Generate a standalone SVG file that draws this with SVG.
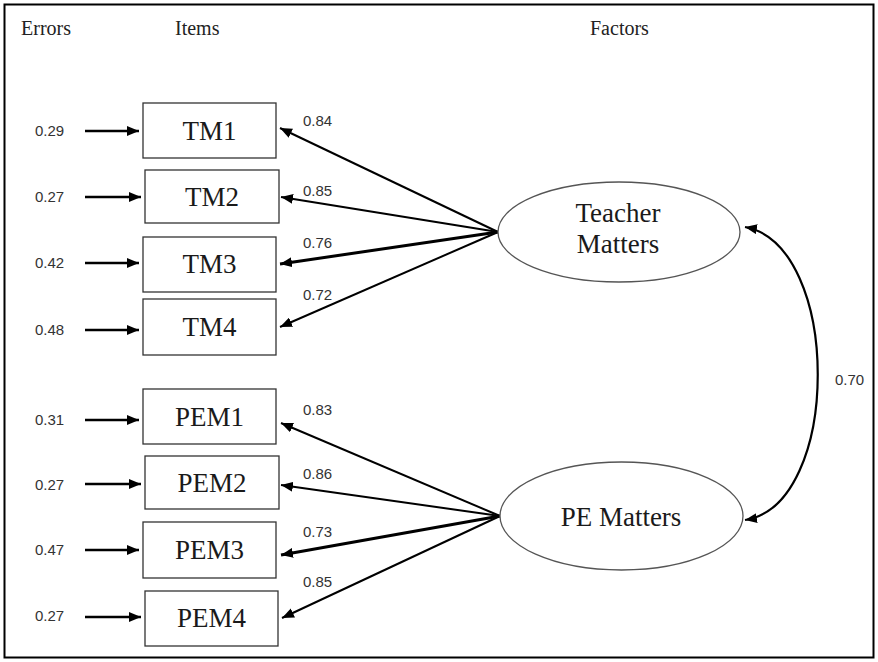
<svg xmlns="http://www.w3.org/2000/svg" width="878" height="662" viewBox="0 0 878 662">
<defs>
<marker id="ah" viewBox="0 0 12 10" refX="12" refY="5" markerWidth="12" markerHeight="10" markerUnits="userSpaceOnUse" orient="auto-start-reverse">
<path d="M0,0 L12,5 L0,10 z" fill="#000"/>
</marker>
<style>
.hd{font-family:"Liberation Serif","Times New Roman",serif;font-size:20px;fill:#222}
.nl{font-family:"Liberation Serif","Times New Roman",serif;font-size:27px;fill:#1a1a1a;text-anchor:middle}
.num{font-family:"Liberation Sans",Arial,sans-serif;font-size:15px;fill:#333}
.box{fill:#fff;stroke:#333;stroke-width:1.3}
.ell{fill:#fff;stroke:#555;stroke-width:1.3}
.err{stroke:#000;stroke-width:2.6;fill:none;marker-end:url(#ah)}
.ld{stroke:#000;stroke-width:2;fill:none;marker-end:url(#ah)}
.ldt{stroke:#000;stroke-width:3;fill:none;marker-end:url(#ah)}
</style>
</defs>
<rect x="4.5" y="4.5" width="869" height="653" fill="#fff" stroke="#000" stroke-width="2"/>
<g id="headings">
<text class="hd" x="21" y="35">Errors</text>
<text class="hd" x="175" y="35">Items</text>
<text class="hd" x="590" y="35">Factors</text>
</g>
<g id="connectors">
<line class="err" x1="85" y1="131" x2="139" y2="131"/>
<line class="err" x1="85" y1="197" x2="141" y2="197"/>
<line class="err" x1="85" y1="263" x2="139" y2="263"/>
<line class="err" x1="85" y1="330" x2="139" y2="330"/>
<line class="err" x1="85" y1="420" x2="139" y2="420"/>
<line class="err" x1="85" y1="484" x2="141" y2="484"/>
<line class="err" x1="85" y1="550" x2="139" y2="550"/>
<line class="err" x1="85" y1="617" x2="141" y2="617"/>
<line class="ld" x1="498" y1="232" x2="280" y2="128"/>
<line class="ld" x1="498" y1="232" x2="281" y2="197"/>
<line class="ldt" x1="498" y1="232" x2="280" y2="264"/>
<line class="ld" x1="498" y1="232" x2="280" y2="327"/>
<line class="ld" x1="500" y1="516" x2="281" y2="423"/>
<line class="ld" x1="500" y1="516" x2="281" y2="485"/>
<line class="ldt" x1="500" y1="516" x2="281" y2="555"/>
<line class="ld" x1="500" y1="516" x2="282" y2="618"/>
<path d="M745,227 C842,245 842,505 745,520" stroke="#000" stroke-width="2.2" fill="none" marker-start="url(#ah)" marker-end="url(#ah)"/>
</g>
<g id="labels">
<text class="num" x="35" y="136">0.29</text>
<text class="num" x="35" y="202">0.27</text>
<text class="num" x="35" y="268">0.42</text>
<text class="num" x="35" y="335">0.48</text>
<text class="num" x="35" y="425">0.31</text>
<text class="num" x="35" y="490">0.27</text>
<text class="num" x="35" y="555">0.47</text>
<text class="num" x="35" y="621">0.27</text>
<text class="num" x="303" y="126">0.84</text>
<text class="num" x="303" y="196">0.85</text>
<text class="num" x="303" y="248">0.76</text>
<text class="num" x="303" y="300">0.72</text>
<text class="num" x="303" y="415">0.83</text>
<text class="num" x="303" y="479">0.86</text>
<text class="num" x="303" y="537">0.73</text>
<text class="num" x="303" y="587">0.85</text>
<text class="num" x="835" y="385">0.70</text>
</g>
<g id="TM1"><rect class="box" x="143" y="103" width="133" height="55"/><text class="nl" x="209.5" y="140">TM1</text></g>
<g id="TM2"><rect class="box" x="145" y="170" width="134" height="53"/><text class="nl" x="212" y="206">TM2</text></g>
<g id="TM3"><rect class="box" x="143" y="237" width="133" height="55"/><text class="nl" x="209.5" y="273">TM3</text></g>
<g id="TM4"><rect class="box" x="143" y="299" width="133" height="56"/><text class="nl" x="209.5" y="336">TM4</text></g>
<g id="PEM1"><rect class="box" x="143" y="389" width="133" height="55"/><text class="nl" x="209.5" y="426">PEM1</text></g>
<g id="PEM2"><rect class="box" x="145" y="456" width="134" height="53"/><text class="nl" x="212" y="492">PEM2</text></g>
<g id="PEM3"><rect class="box" x="143" y="522" width="133" height="56"/><text class="nl" x="209.5" y="559">PEM3</text></g>
<g id="PEM4"><rect class="box" x="145" y="591" width="133" height="55"/><text class="nl" x="211.5" y="627">PEM4</text></g>
<g id="TeacherMatters"><ellipse class="ell" cx="619" cy="232" rx="121" ry="50"/><text class="nl" x="618" y="222">Teacher</text><text class="nl" x="618" y="253">Matters</text></g>
<g id="PEMatters"><ellipse class="ell" cx="621.5" cy="516" rx="121.5" ry="54"/><text class="nl" x="621" y="526">PE Matters</text></g>
</svg>
